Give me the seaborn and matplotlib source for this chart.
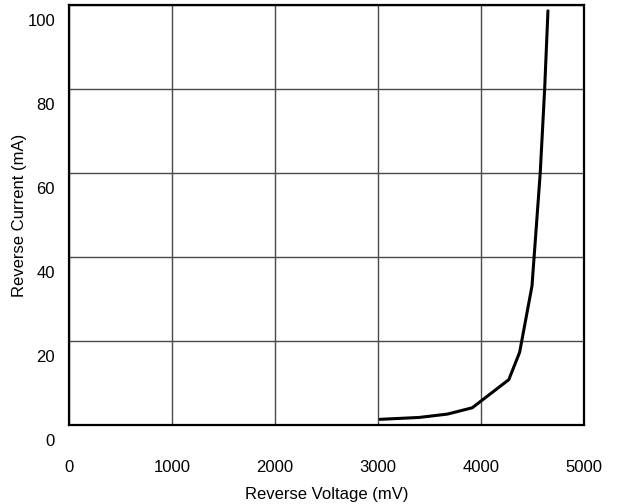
import matplotlib
matplotlib.use("Agg")
import matplotlib.pyplot as plt
import matplotlib.transforms as mtransforms
import seaborn as sns
import pandas as pd

# Data
voltage_mv = [3020, 3400, 3675, 3915, 4270, 4375, 4495, 4575, 4618, 4650]
current_ma = [1.35, 1.8, 2.6, 4.1, 10.8, 17.3, 33.1, 60, 80, 98.6]
x_ticks = [0, 1000, 2000, 3000, 4000, 5000]
y_ticks = [0, 20, 40, 60, 80, 100]

sns.set_style("white")
plt.rcParams['font.family'] = ['Liberation Sans', 'DejaVu Sans']

df = pd.DataFrame({"Reverse Voltage (mV)": voltage_mv,
                   "Reverse Current (mA)": current_ma})

fig = plt.figure(figsize=(6.2, 5.04), dpi=100)
ax = fig.add_axes([69 / 620, 1 - 425 / 504, (584 - 69) / 620, (425 - 5) / 504])

sns.lineplot(data=df, x="Reverse Voltage (mV)", y="Reverse Current (mA)",
             color="black", linewidth=2.2, ax=ax, sort=False)

ax.set_xlim(0, 5000)
ax.set_ylim(0, 100)
ax.set_xticks(x_ticks)
ax.set_yticks(y_ticks)
ax.grid(True, color="#4a4a4a", linewidth=1.0)
ax.set_axisbelow(True)

for s in ax.spines.values():
    s.set_visible(True)
    s.set_color("black")
    s.set_linewidth(1.6)

ax.tick_params(axis="x", length=0, pad=25, labelsize=12, colors="black")
ax.tick_params(axis="y", length=0, pad=10, labelsize=12, colors="black")

offset = mtransforms.ScaledTranslation(0, -0.15, fig.dpi_scale_trans)
for lbl in ax.get_yticklabels():
    lbl.set_transform(lbl.get_transform() + offset)

ax.set_xlabel("Reverse Voltage (mV)", fontsize=12, color="black")
ax.set_ylabel("Reverse Current (mA)", fontsize=12, color="black")
ax.xaxis.set_label_coords(0.5, (425 - 487) / 420)
ax.xaxis.label.set_va("top")
ax.yaxis.set_label_coords((27 - 69) / 515, 0.5)

fig.savefig("out.png", dpi=100)
